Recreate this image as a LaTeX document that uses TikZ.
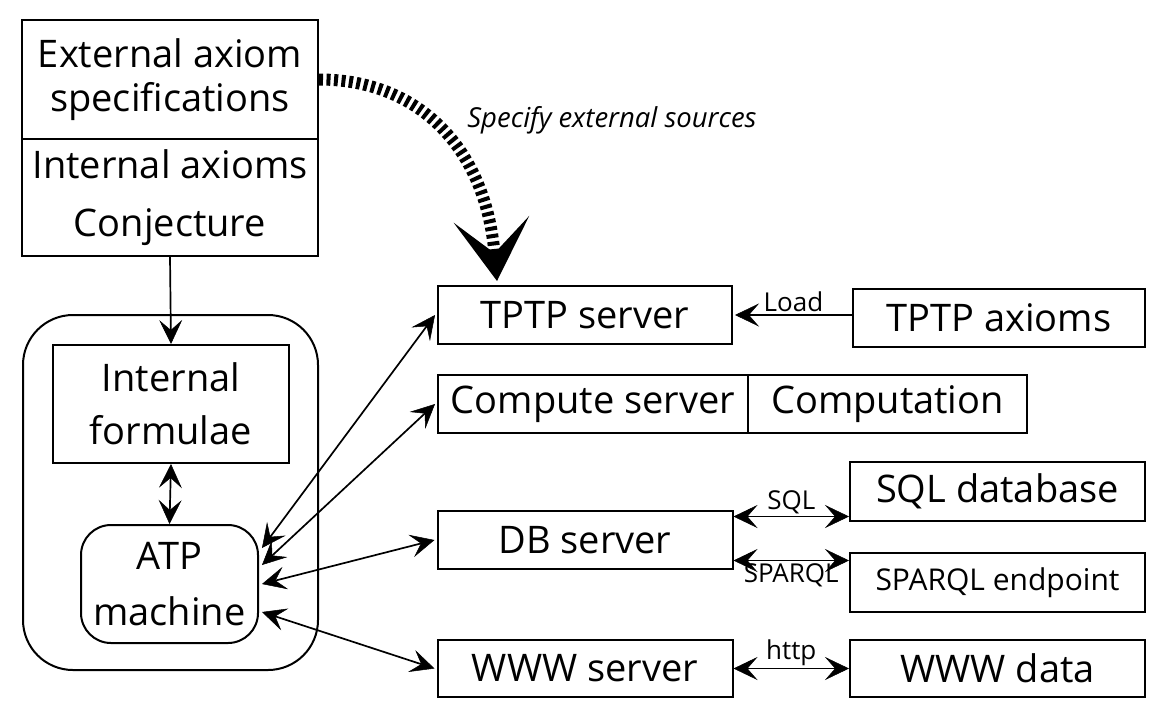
\documentclass[tikz,border=0pt]{standalone}
\usepackage{fontspec}
\setmainfont{Open Sans}
\usetikzlibrary{arrows.meta,calc}
\begin{document}
\begin{tikzpicture}[x=1pt,y=-1pt,
  box/.style={draw,line width=2pt,inner sep=0pt,align=center,font=\fontsize{38}{44}\selectfont},
  lbl/.style={font=\fontsize{26}{30}\selectfont,inner sep=1pt},
  arr/.style={line width=1.7pt,-{Stealth[length=24pt,width=23pt,inset=10pt,line width=0.5pt]}},
  dbl/.style={line width=1.7pt,{Stealth[length=24pt,width=23pt,inset=10pt,line width=0.5pt]}-{Stealth[length=24pt,width=23pt,inset=10pt,line width=0.5pt]}},
  spec/.style={line width=12pt,dash pattern=on 4pt off 3.5pt,-{Stealth[length=62pt,width=76pt,inset=34pt,line width=0pt]}}
]
\useasboundingbox (0,0) rectangle (1169,721);
% left column
\node[box,minimum width=296pt,minimum height=119pt] (ext) at (170,79.5) {External axiom\\specifications};
\node[box,minimum width=296pt,minimum height=117pt,font=\fontsize{38}{58}\selectfont] (int) at (170,197.5) {Internal axioms\\Conjecture};
\node[draw,line width=2pt,rounded corners=50pt,minimum width=295pt,minimum height=355pt] (sys) at (170.5,492.5) {};
\node[box,minimum width=236pt,minimum height=118pt,font=\fontsize{38}{53}\selectfont] (form) at (171,404) {Internal\\formulae};
\node[box,rounded corners=30pt,minimum width=177pt,minimum height=118pt,font=\fontsize{38}{56}\selectfont] (atp) at (169.5,584) {ATP\\machine};
% servers
\node[box,minimum width=294pt,minimum height=58pt] (tptp) at (585,315) {TPTP server};
\node[box,minimum width=310pt,minimum height=58pt] (compute) at (593,404) {Compute server};
\node[box,minimum width=279pt,minimum height=58pt] (comp) at (887.5,404) {Computation};
\node[box,minimum width=295pt,minimum height=58pt] (db) at (585,540) {DB server};
\node[box,minimum width=295pt,minimum height=57pt] (www) at (585,668.5) {WWW server};
% sources
\node[box,minimum width=292pt,minimum height=58pt] (tptpax) at (999,318) {TPTP axioms};
\node[box,minimum width=295pt,minimum height=59pt] (sqldb) at (997.5,491.5) {SQL database};
\node[box,minimum width=295pt,minimum height=59pt,font=\fontsize{30}{34}\selectfont] (sparql) at (997.5,582.5) {SPARQL endpoint};
\node[box,minimum width=295pt,minimum height=57pt] (wwwdata) at (997.5,668.5) {WWW data};
% connectors
\draw[arr] (int.south) -- (form.north);
\draw[dbl] (form.south) -- (atp.north);
\draw[dbl] ([xshift=3pt,yshift=36pt]atp.east) -- ([xshift=-2pt]tptp.west);
\draw[dbl] ([xshift=3pt,yshift=19pt]atp.east) -- ([xshift=-2pt]compute.west);
\draw[dbl] ([xshift=3pt]atp.east) -- ([xshift=-2pt]db.west);
\draw[dbl] ([xshift=3pt,yshift=-28pt]atp.east) -- ([xshift=-2pt]www.west);
\draw[arr] (tptpax.west |- tptp.east) -- node[lbl,above=1pt] (load) {Load} ([xshift=2pt]tptp.east);
\coordinate (sqlA) at ([yshift=23.5pt]db.east);
\draw[dbl] (sqlA) -- node[lbl,above=1pt] (sqllbl) {SQL} (sqlA -| sqldb.west);
\coordinate (spA) at ([yshift=-20.5pt]db.east);
\draw[dbl] (spA) -- node[lbl,below=1pt] (splbl) {SPARQL} (spA -| sparql.west);
\draw[dbl] (www.east) -- node[lbl,above=1pt] (httplbl) {http} (wwwdata.west);
\coordinate (specEnd) at ([xshift=-88pt,yshift=4pt]tptp.north);
\draw[spec] (ext.east) .. controls +(100,0) and +(-12,-133) .. (specEnd);
\node[font=\fontsize{27.5}{31}\selectfont\itshape] (speclbl) at (612,120) {Specify external sources};
\end{tikzpicture}
\end{document}
